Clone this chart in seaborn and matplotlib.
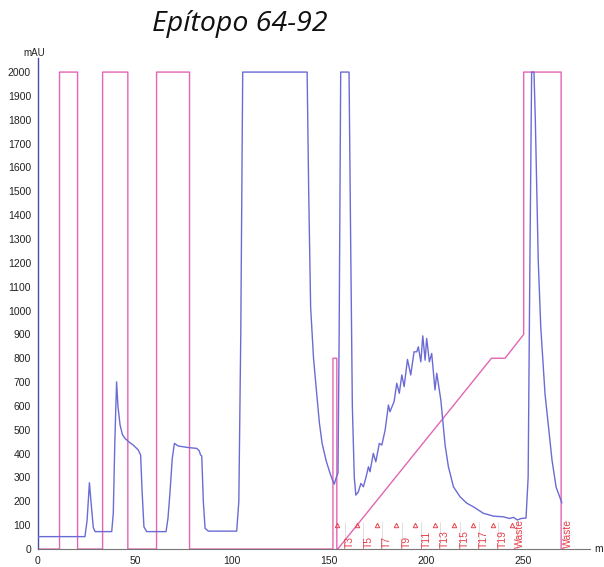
import numpy as np
import pandas as pd
import matplotlib
matplotlib.use("Agg")
import matplotlib.pyplot as plt
import seaborn as sns
from matplotlib.ticker import MultipleLocator

# ---------------- data ----------------
uv_x = [0, 24.2, 25.3, 26.5, 27.3, 28.5, 29.4, 38, 38.8, 39.6, 40.5, 41.2, 42.3, 43.5,
        44.8, 47, 49.1, 51.7, 52.9, 53.6, 54.6, 56, 66, 67, 68, 69.2, 70.3, 72.3, 77,
        81.8, 83.1, 83.8, 84.4, 85.2, 86.1, 87.8, 102.4, 103.5, 104.5, 105.5, 138.7,
        139.5, 140.5, 142, 143.6, 145, 146.4, 148.5, 150.5, 151.7, 152.7, 153.7, 154.6,
        155.2, 156.0, 160.3, 161, 162, 163, 163.8, 165.1, 166.4, 167.7, 169.0, 170.3,
        171.1, 172.8, 174.1, 175.9, 177.2, 178.9, 180.6, 181.4, 183.5, 184.9, 186.2,
        187.5, 188.7, 190.4, 192.1, 193.8, 195.2, 196.0, 197.3, 198.3, 199.5, 200.3,
        201.7, 202.9, 204.6, 205.5, 207.6, 209.8, 211.5, 214.1, 217.5, 221, 224.4,
        229.5, 234.7, 239.9, 243, 245, 247, 249, 251.5, 252.6, 253.5, 254.4, 255.6,
        256.3, 257.8, 259.1, 261.3, 264.9, 267, 270]
uv_y = [52, 52, 120, 278, 200, 90, 73, 73, 150, 450, 701, 600, 520, 480,
        464, 448, 436, 415, 394, 250, 93, 73, 73, 130, 235, 380, 443, 432, 426,
        422, 412, 394, 390, 200, 87, 75, 75, 200, 900, 2000, 2000,
        1500, 1015, 800, 654, 530, 444, 370, 318, 290, 272, 300, 318,
        900, 2000, 2000, 1400, 600, 300, 226, 240, 275, 261, 300, 345,
        324, 401, 366, 443, 436, 499, 604, 576, 618, 695, 653,
        730, 681, 795, 730, 827, 827, 848, 785, 894, 792, 883,
        785, 820, 667, 737, 625, 436, 345, 261, 219, 192, 177,
        150, 138, 135, 128, 133, 122, 128, 130, 300, 1200, 2000, 2000,
        1800, 1210, 930, 650, 373, 260, 193]

grad_x = [0, 11.1, 11.1, 20.4, 20.4, 33.3, 33.3, 46.3, 46.3, 61.1, 61.1, 78.1, 78.1,
          152.0, 152.0, 154.0, 154.0, 154.5, 233.7, 240.7, 250.3, 250.3, 269.6, 269.6]
grad_y = [0, 0, 2000, 2000, 0, 0, 2000, 2000, 0, 0, 2000, 2000, 0,
          0, 800, 800, 0, 0, 800, 800, 900, 2000, 2000, 0]

frac_marks = [154.3, 164.6, 174.6, 184.5, 194.5, 204.6, 214.4, 224.4, 234.4, 244.3]
frac_lines = [158.0, 167.7, 177.5, 187.5, 197.3, 207.2, 217.5, 227.3, 237.3, 247.1, 270.5]
frac_label_x = [160.5, 170.3, 179.7, 190.0, 200.3, 209.8, 220.1, 229.9, 239.5, 248.5, 273.2]
frac_labels = ["T3", "T5", "T7", "T9", "T11", "T13", "T15", "T17", "T19", "Waste", "Waste"]

x_ticks = [0, 50, 100, 150, 200, 250]
y_ticks = list(range(0, 2001, 100))

title = "Epítopo 64-92"

# ---------------- plot ----------------
sns.set_style("white")
plt.rcParams['font.family'] = ['Liberation Sans', 'DejaVu Sans']

fig = plt.figure(figsize=(6.04, 5.67), dpi=100)
ax = fig.add_axes([0.0629, 0.0317, 0.914, 0.866])

uv = pd.DataFrame({"x": uv_x, "y": uv_y})
gr = pd.DataFrame({"x": grad_x, "y": grad_y})

pink = "#e465b4"
blue = "#6b6bd6"
red = "#e8404a"

for fx in frac_lines:
    ax.plot([fx, fx], [0, 115], color="#dcdcdc", lw=0.6, zorder=1)

sns.lineplot(data=gr, x="x", y="y", sort=False, estimator=None, color=pink, lw=1.0, ax=ax, zorder=2)
sns.lineplot(data=uv, x="x", y="y", sort=False, estimator=None, color=blue, lw=1.0, ax=ax, zorder=3)

ax.plot(frac_marks, [100] * len(frac_marks), linestyle="none", marker="^", markersize=3.2,
        markerfacecolor="none", markeredgecolor=red, markeredgewidth=0.7, zorder=4)
for lx, lab in zip(frac_label_x, frac_labels):
    ax.text(lx, 6, lab, rotation=90, ha="center", va="bottom", fontsize=7.5, color=red, zorder=5)

ax.set_xlim(0, 284.5)
ax.set_ylim(0, 2059)
ax.set_xticks(x_ticks)
ax.set_yticks(y_ticks)
ax.xaxis.set_minor_locator(MultipleLocator(10))
ax.yaxis.set_minor_locator(MultipleLocator(20))
ax.tick_params(axis="both", which="major", labelsize=7.5, length=3, width=0.6, colors="#555555",
               labelcolor="#222222", pad=2)
ax.tick_params(axis="both", which="minor", length=1.5, width=0.5, colors="#888888")
ax.tick_params(axis="x", direction="out")
ax.set_xlabel("")
ax.set_ylabel("")
for s in ["top", "right"]:
    ax.spines[s].set_visible(False)
ax.spines["left"].set_color("#4a4aa8")
ax.spines["left"].set_linewidth(1.0)
ax.spines["bottom"].set_color("#777777")
ax.spines["bottom"].set_linewidth(0.8)

fig.text(34 / 604, 1 - 53 / 567, "mAU", ha="center", va="center", fontsize=7, color="#222222")
fig.text(594 / 604, 1 - 549 / 567, "m", ha="left", va="center", fontsize=7.5, color="#222222")
fig.text(240 / 604, 1 - 24 / 567, title, ha="center", va="center", fontsize=20.5,
         style="italic", family=["Open Sans", "DejaVu Sans"], color="#111111")

fig.savefig("out.png", dpi=100)
